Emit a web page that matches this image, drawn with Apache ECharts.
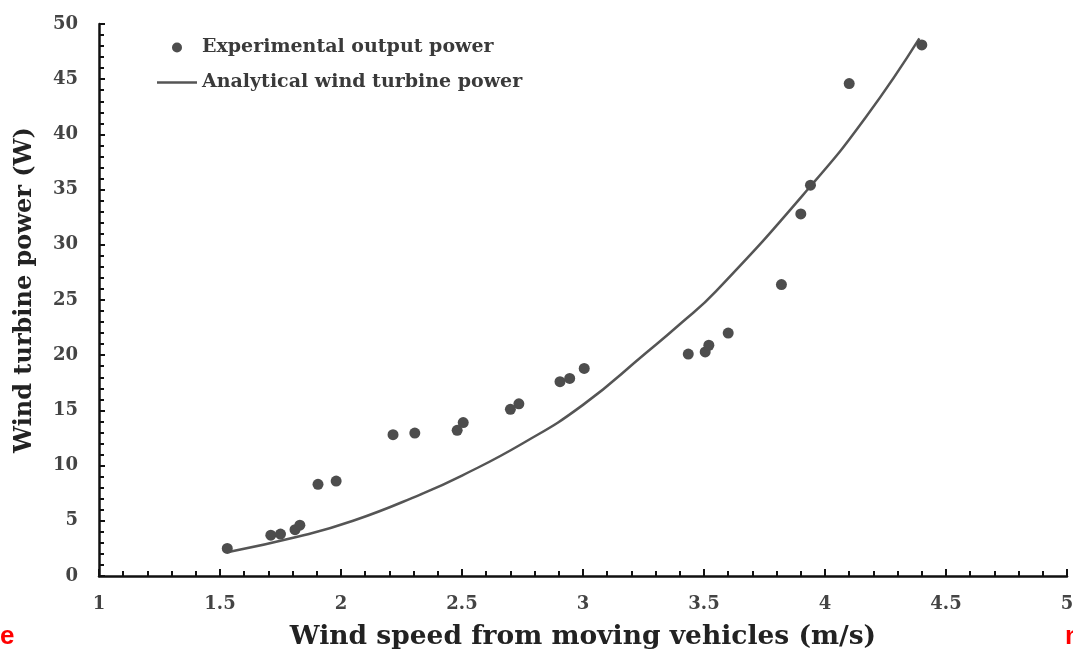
<!DOCTYPE html>
<html>
<head>
<meta charset="utf-8">
<script src="https://cdn.jsdelivr.net/npm/echarts@6/dist/echarts.min.js"></script>
<style>html,body{margin:0;padding:0;background:#fff}#c{width:1073px;height:650px}</style>
</head>
<body>
<div id="c"></div>
<script>
// Experimental points: [wind speed (m/s), power (W)]
const experimentalSpeed = [1.53, 1.71, 1.75, 1.81, 1.83, 1.905, 1.98, 2.215, 2.305, 2.48, 2.505, 2.70, 2.735, 2.905, 2.945, 3.005, 3.435, 3.505, 3.52, 3.60, 3.82, 3.90, 3.94, 4.10, 4.40];
const experimentalPower = [2.5, 3.7, 3.8, 4.2, 4.6, 8.3, 8.6, 12.8, 12.95, 13.2, 13.9, 15.1, 15.6, 17.6, 17.9, 18.8, 20.1, 20.3, 20.9, 22.0, 26.4, 32.8, 35.4, 44.6, 48.1];
// Analytical curve
const analyticalSpeed = [1.54, 1.82, 2.05, 2.33, 2.5, 2.75, 3.0, 3.26, 3.4, 3.55, 3.94, 4.17, 4.39];
const analyticalPower = [2.2, 3.55, 5.0, 7.4, 9.1, 12.0, 15.5, 20.2, 22.8, 25.8, 35.3, 41.6, 48.7];
const xTicks = [1, 1.5, 2, 2.5, 3, 3.5, 4, 4.5, 5];
const yTicks = [0, 5, 10, 15, 20, 25, 30, 35, 40, 45, 50];

const serif = '"DejaVu Serif", "Liberation Serif", serif';
const chart = echarts.init(document.getElementById('c'));
chart.setOption({
  animation: false,
  backgroundColor: '#fff',
  grid: { left: 99, right: 6, top: 24, bottom: 74, outerBoundsMode: 'none', containLabel: false },
  legend: {
    orient: 'vertical', left: 152, top: 33,
    itemWidth: 40, itemHeight: 10, itemGap: 16, symbolKeepAspect: true,
    textStyle: { fontFamily: serif, fontWeight: 'bold', fontSize: 19, color: '#3a3a3a' },
    data: [
      { name: 'Experimental output power', icon: 'circle' },
      { name: 'Analytical wind turbine power', icon: 'path://M0,0L40,0L40,2.5L0,2.5Z' }
    ]
  },
  xAxis: {
    type: 'value', min: xTicks[0], max: xTicks[xTicks.length - 1], interval: 0.5,
    name: 'Wind speed from moving vehicles (m/s)', nameLocation: 'middle', nameGap: 48,
    nameTextStyle: { fontFamily: serif, fontWeight: 'bold', fontSize: 26.5, color: '#222' },
    axisLine: { lineStyle: { color: '#111', width: 2.5 } },
    axisTick: { inside: true, length: 7, lineStyle: { color: '#111', width: 2 } },
    minorTick: { show: true, splitNumber: 5, length: 5, lineStyle: { color: '#111', width: 2 } },
    splitLine: { show: false },
    axisLabel: { margin: 19, fontFamily: serif, fontWeight: 'bold', fontSize: 18, color: '#444',
      formatter: v => xTicks.includes(v) ? String(v) : '' }
  },
  yAxis: {
    type: 'value', min: yTicks[0], max: yTicks[yTicks.length - 1], interval: 5,
    name: 'Wind turbine power (W)', nameLocation: 'middle', nameGap: 62,
    nameTextStyle: { fontFamily: serif, fontWeight: 'bold', fontSize: 24, color: '#222', padding: [0, 0, 0, 20] },
    axisLine: { show: true, lineStyle: { color: '#111', width: 2.5 } },
    axisTick: { inside: true, length: 6, lineStyle: { color: '#111', width: 2 } },
    minorTick: { show: true, splitNumber: 5, length: 5, lineStyle: { color: '#111', width: 2 } },
    splitLine: { show: false },
    axisLabel: { margin: 21, fontFamily: serif, fontWeight: 'bold', fontSize: 18, color: '#444',
      formatter: v => yTicks.includes(v) ? String(v) : '' }
  },
  graphic: [
    { type: 'text', left: 0, top: 624, style: { text: 'e', fill: '#ff0000', font: 'bold 26px "Liberation Sans", sans-serif' } },
    { type: 'text', left: 1065, top: 624, style: { text: 'n', fill: '#ff0000', font: 'bold 26px "Liberation Sans", sans-serif' } }
  ],
  series: [
    {
      name: 'Analytical wind turbine power', type: 'line', smooth: true, symbol: 'none',
      lineStyle: { color: '#555', width: 2.5 }, itemStyle: { color: '#555' },
      data: analyticalSpeed.map((x, i) => [x, analyticalPower[i]]), z: 2
    },
    {
      name: 'Experimental output power', type: 'scatter', symbolSize: 11,
      itemStyle: { color: '#4d4d4d', opacity: 1 },
      data: experimentalSpeed.map((x, i) => [x, experimentalPower[i]]), z: 3
    }
  ]
});
</script>
</body>
</html>
